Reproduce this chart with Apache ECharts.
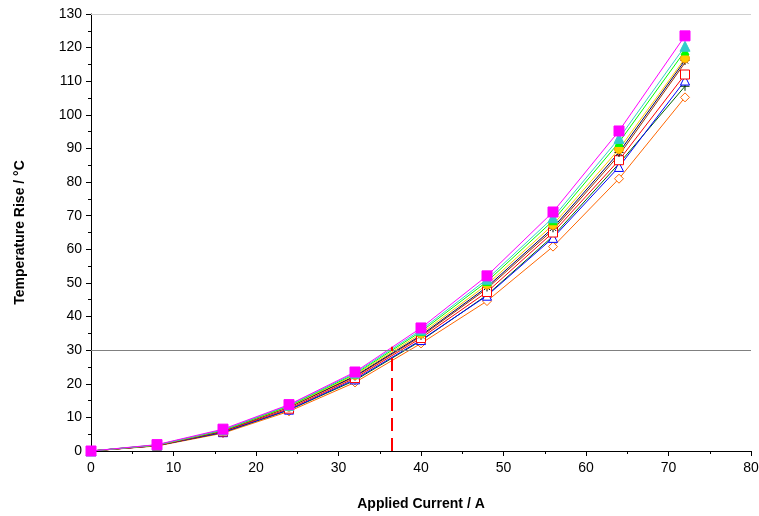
<!DOCTYPE html>
<html>
<head>
  <meta charset="utf-8">
  <title>Temperature rise</title>
  <script src="https://cdn.jsdelivr.net/npm/echarts@6/dist/echarts.min.js"></script>
  <style>
    html, body { margin: 0; padding: 0; background: #fff; }
    #main { width: 759px; height: 516px; }
  </style>
</head>
<body>
<div id="main"></div>
<script>
// applied current (A)
var current = [0, 8, 16, 24, 32, 40, 48, 56, 64, 72];

// temperature rise (°C), one array per curve
var rise1  = [0, 1.9, 6.5, 13.8, 23.5, 36.6, 52.1, 71.1, 95.2, 123.5];
var rise2  = [0, 1.8, 6.3, 13.6, 23.2, 36.0, 51.1, 69.4, 93.0, 120.4];
var rise3  = [0, 1.8, 6.2, 13.4, 22.9, 35.5, 50.4, 68.5, 91.8, 119.0];
var rise4  = [0, 1.7, 6.1, 13.2, 22.6, 34.9, 49.5, 67.3, 89.8, 116.8];
var rise5  = [0, 1.7, 6.0, 13.1, 22.3, 34.4, 48.8, 66.4, 88.8, 116.2];
var rise6  = [0, 1.7, 6.0, 13.0, 22.1, 34.1, 48.3, 65.8, 88.0, 115.5];
var rise7  = [0, 1.6, 5.8, 12.6, 21.7, 33.6, 47.3, 65.0, 86.5, 112.0];
var rise8  = [0, 1.6, 5.6, 12.3, 21.3, 33.0, 46.2, 63.4, 84.5, 110.2];
var rise9  = [0, 1.6, 5.5, 12.2, 21.0, 32.8, 46.4, 63.9, 85.5, 108.5];
var rise10 = [0, 1.5, 5.3, 11.8, 20.4, 32.0, 44.6, 60.8, 81.0, 105.2];

// limit line and the current where it is reached
var limitRise = 30;
var limitCurrent = 36.4;

var asterisk = 'path://M5,0L5,10M0,5L10,5M1.5,1.5L8.5,8.5M8.5,1.5L1.5,8.5';
var plus = 'path://M5,0L5,10M0,5L10,5';

function pairs(ys) {
  var out = [];
  for (var i = 0; i < current.length; i++) out.push([current[i], ys[i]]);
  return out;
}

function mk(data, color, symbol, size, fill, stroke) {
  return {
    type: 'line',
    data: pairs(data),
    symbol: symbol,
    symbolSize: size,
    showAllSymbol: true,
    lineStyle: { color: color, width: 1 },
    itemStyle: { color: fill, borderColor: stroke || color, borderWidth: 1 },
    emphasis: { disabled: true },
    z: 3
  };
}

var series = [
  mk(rise10, '#FF6600', 'diamond', 9, '#fff', '#FF6600'),
  mk(rise9, '#006600', plus, 9, 'none', '#003300'),
  mk(rise8, '#0000FF', 'triangle', 9, '#fff', '#0000FF'),
  mk(rise7, '#FF0000', 'rect', 9, '#fff', '#FF0000'),
  mk(rise6, '#993300', 'none', 0, '#993300'),
  mk(rise5, '#000066', asterisk, 9, 'none', '#000000'),
  mk(rise4, '#FFCC00', 'circle', 9, '#FFCC00', '#FF9900'),
  mk(rise3, '#00FF00', 'triangle', 8, '#00FF00'),
  mk(rise2, '#33CCCC', 'triangle', 10, '#33CCCC'),
  mk(rise1, '#FF00FF', 'rect', 10, '#FF00FF')
];

// annotation lines
series.push({
  type: 'line',
  data: [],
  markLine: {
    silent: true,
    symbol: 'none',
    label: { show: false },
    data: [
      [{ coord: [0, limitRise], lineStyle: { color: '#808080', width: 1, type: 'solid' } },
       { coord: [80, limitRise] }],
      [{ coord: [0, 130], lineStyle: { color: '#d0d0d0', width: 1, type: 'solid' } },
       { coord: [80, 130] }],
      [{ coord: [limitCurrent, 0], lineStyle: { color: '#FF0000', width: 2, type: [13, 7] } },
       { coord: [limitCurrent, limitRise + 1] }]
    ]
  }
});

var chart = echarts.init(document.getElementById('main'));
chart.setOption({
  animation: false,
  backgroundColor: '#fff',
  grid: { left: 91, right: 8, top: 14, bottom: 65, containLabel: false, outerBoundsMode: 'none' },
  xAxis: {
    type: 'value',
    min: 0, max: 80, interval: 10,
    name: 'Applied Current / A',
    nameLocation: 'middle',
    nameGap: 46,
    nameTextStyle: { fontFamily: 'Liberation Sans', fontSize: 14, fontWeight: 'bold', color: '#000' },
    axisLine: { lineStyle: { color: '#000', width: 1 } },
    axisTick: { length: 5, lineStyle: { color: '#000' } },
    minorTick: { show: true, splitNumber: 2, length: 3, lineStyle: { color: '#000' } },
    axisLabel: { fontFamily: 'Liberation Sans', fontSize: 14, color: '#000', margin: 10 },
    splitLine: { show: false }
  },
  yAxis: {
    type: 'value',
    min: 0, max: 130, interval: 10,
    name: 'Temperature Rise / °C',
    nameLocation: 'middle',
    nameGap: 64,
    nameTextStyle: { fontFamily: 'Liberation Sans', fontSize: 14, fontWeight: 'bold', color: '#000' },
    axisLine: { show: true, lineStyle: { color: '#000', width: 1 } },
    axisTick: { show: true, length: 5, lineStyle: { color: '#000' } },
    minorTick: { show: true, splitNumber: 2, length: 3, lineStyle: { color: '#000' } },
    axisLabel: { fontFamily: 'Liberation Sans', fontSize: 14, color: '#000', margin: 9 },
    splitLine: { show: false }
  },
  series: series
});
</script>
</body>
</html>
